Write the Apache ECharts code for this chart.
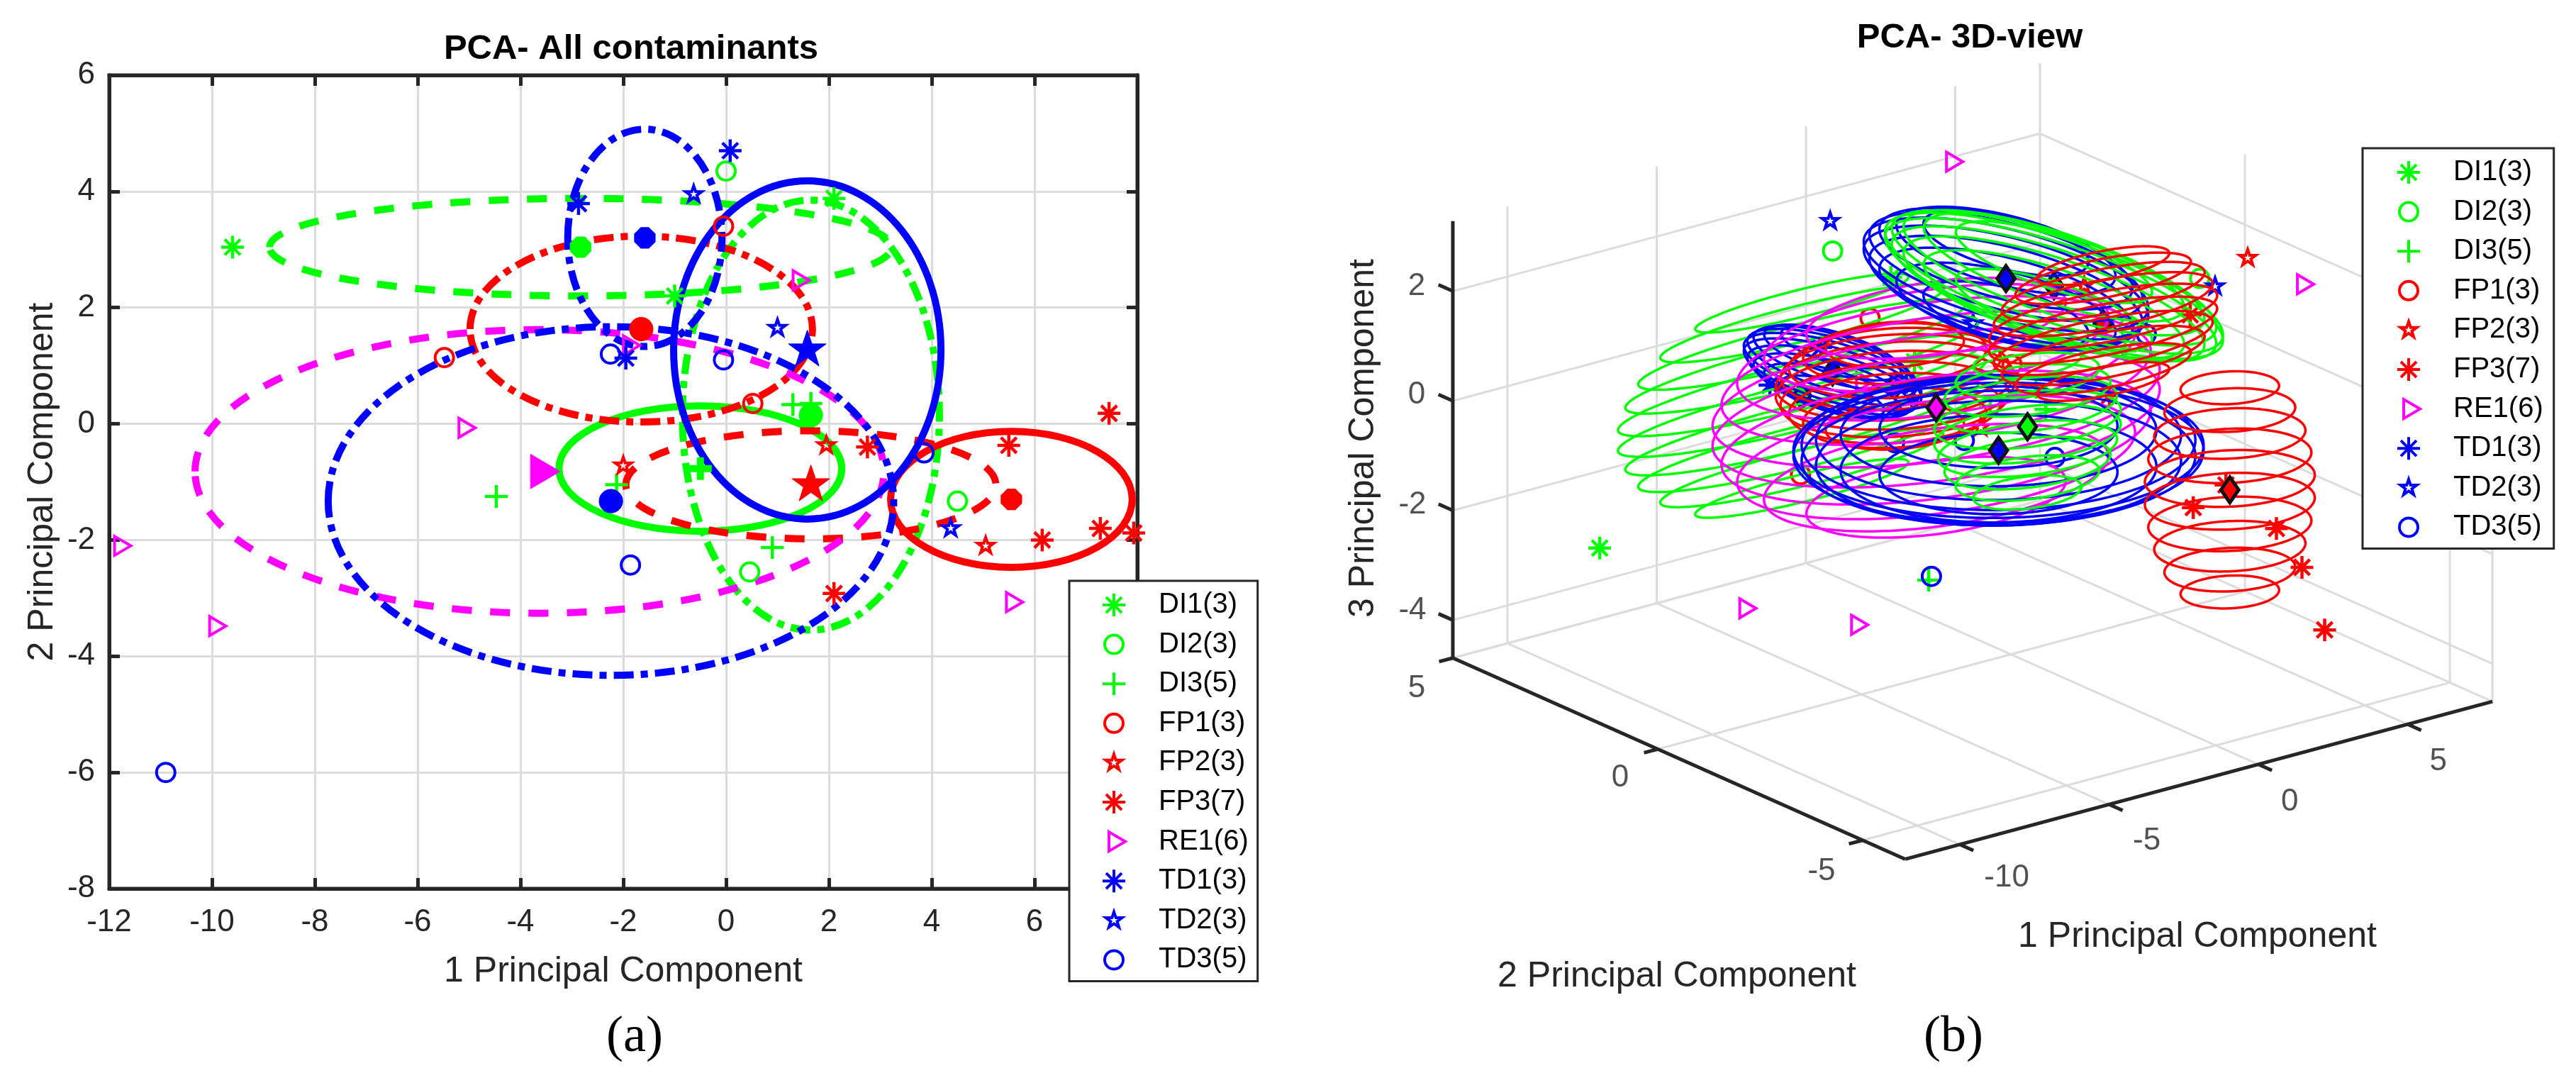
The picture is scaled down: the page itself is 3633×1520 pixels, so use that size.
<!DOCTYPE html>
<html>
<head>
<meta charset="utf-8">
<style>html,body{margin:0;padding:0;background:#fff}#c{width:3633px;height:1520px}</style>
<script src="https://cdn.jsdelivr.net/npm/echarts@6/dist/echarts.min.js"></script>
</head>
<body>
<div id="c"></div>
<script>
// Values: [PC1, PC2, PC3]
const DI1 = [[-9.6,3.04,-2.36],[-1.0,2.2,1.6],[2.1,3.88,-0.95]];
const DI2 = [[0,4.35,1.22],[0.46,-2.55,2.05],[4.5,-1.33,1.95]];
const DI3 = [[-4.47,-1.25,-2.27],[-2.13,-1.05,0.5],[0.9,-2.13,1.42],[1.65,0.35,-0.58],[1.3,0.33,-0.12]];
const FP1 = [[-5.48,1.14,-0.99],[-0.05,3.4,0.32],[0.52,0.35,0.4]];
const FP2 = [[-2.0,-0.72,-0.02],[1.95,-0.37,1.87],[5.05,-2.1,2.5]];
const FP3 = [[2.1,-2.92,-1.35],[2.75,-0.4,-0.24],[5.5,-0.37,0.82],[6.15,-2.0,-2.63],[7.28,-1.8,-3.57],[7.93,-1.88,-4.78],[7.45,0.18,-2.75]];
const RE1 = [[-11.8,-2.1,-1.43],[-9.95,-3.48,-1.54],[-5.1,-0.07,1.05],[1.4,2.47,3.27],[5.55,-3.07,2.27],[-1.9,1.35,0.04]];
const TD1 = [[-2.87,3.79,-0.62],[0.08,4.7,-0.67],[-1.95,1.13,0.18]];
const TD2 = [[-0.63,3.95,1.99],[1.0,1.65,0.65],[4.37,-1.8,1.98]];
const TD3 = [[-10.9,-6.0,0.32],[-2.25,1.2,-0.9],[-0.05,1.1,-1.15],[-1.86,-2.43,-0.02],[3.85,-0.5,0.75]];
const classNames = ['DI1(3)','DI2(3)','DI3(5)','FP1(3)','FP2(3)','FP3(7)','RE1(6)','TD1(3)','TD2(3)','TD3(5)'];
const classPoints = [DI1,DI2,DI3,FP1,FP2,FP3,RE1,TD1,TD2,TD3];
// group centres [PC1, PC2, PC3]
const centres = [[-2.83,3.04,-0.57],[1.65,0.15,1.74],[-0.5,-0.77,-0.21],[-1.65,1.63,-0.09],[1.65,-1.05,1.45],[5.55,-1.3,-2.07],[-3.63,-0.82,0.61],[-1.58,3.2,-0.37],[1.58,1.27,1.51],[-2.24,-1.33,-0.2]];
// group spreads [PC1, PC2, PC3]
const spreads = [[6.05,0.84,1.76],[2.5,3.7,0.45],[2.75,1.08,1.25],[3.33,1.6,0.78],[3.6,0.93,1.1],[2.35,1.17,1.94],[6.7,2.44,1.7],[1.5,1.87,0.47],[2.6,2.91,0.68],[5.5,3.0,0.44]];
const ringHeights = [0.96,0.75,0.53,0.32,0.107,-0.107,-0.32,-0.53,-0.75,-0.96];
const ringScales  = [0.58,0.77,0.89,0.96,1.0,1.0,0.96,0.89,0.77,0.58];
const xTicksA = [-12,8]; const yTicksA = [-8,6];
const pc1Ticks = [-10,-5,0,5]; const pc2Ticks = [-5,0,5]; const pc3Ticks = [-4,-2,0,2];
const pc1Range = [-11.83,7.84]; const pc2Range = [-6.04,5]; const pc3Range = [-4.69,3.28];

// styles
const G='#00ff00',R='#ff0000',M='#ff00ff',B='#0000ff',INK='#262626';
const colors=[G,G,G,R,R,R,M,B,B,B];
const pad='M-18 -18L-18 -18M18 18L18 18';
const aster='M0 -16L0 16M-16 0L16 0M-11 -11L11 11M-11 11L11 -11'+pad;
const circ='M-13 0A13 13 0 1 1 13 0A13 13 0 1 1 -13 0Z'+pad;
const plus='M-16 0L16 0M0 -16L0 16'+pad;
const star='M0 -12L2.8 -3.7L11.4 -3.7L4.5 1.4L7.1 9.7L0 4.6L-7.1 9.7L-4.5 1.4L-11.4 -3.7L-2.8 -3.7Z'+pad;
const tri='M-7 -13.5L16 0L-7 13.5Z'+pad;
const shapes=[aster,circ,plus,circ,star,aster,tri,aster,star,circ].map(s=>'path://'+s);
// mean marker look: [size, stroke]
const meanLook=[[34,12],[46,1],[36,10],[46,1],[84,1],[34,12],[65,1],[34,12],[84,1],[46,1]];
const dashLong=[28,26], dashDot=[28,10,10,10];
const ellipseDash=[dashLong,dashDot,null,dashDot,dashLong,null,dashLong,dashDot,null,dashDot];
const ringOrder=[0,7,3,6,9,2,8,1,5,4];
const centreOnTop=[false,false,true,false,false,true,true,false,true,true];
const FONT='"Liberation Sans",Arial,sans-serif';

// 3D view: the view plane axes of the right panel
function project(p1,p2,p3){return [42.1*p1-57.8*p2, 11.3*p1+25.7*p2+77.3*p3];}

function ellipseItem(color,dash){return function(params,api){
  const c=api.coord([api.value(0),api.value(1)]);
  const s=api.size([api.value(2),api.value(3)]);
  return {type:'ellipse',silent:true,shape:{cx:c[0],cy:c[1],rx:s[0],ry:s[1]},
    style:{fill:'none',stroke:color,lineWidth:10,lineDash:dash||undefined}};
};}
function ringItem(color){return function(params,api){
  const a=api.value(3),b=api.value(4),pts=[];
  for(let i=0;i<120;i++){const t=i/120*2*Math.PI;
    pts.push(api.coord(project(api.value(0)+a*Math.cos(t),api.value(1)+b*Math.sin(t),api.value(2))));}
  return {type:'polygon',silent:true,shape:{points:pts},style:{fill:'none',stroke:color,lineWidth:3.5}};
};}
function segItem(color,w){return function(params,api){
  const p=api.coord(project(api.value(0),api.value(1),api.value(2)));
  const q=api.coord(project(api.value(3),api.value(4),api.value(5)));
  return {type:'line',silent:true,shape:{x1:p[0],y1:p[1],x2:q[0],y2:q[1]},style:{stroke:color,lineWidth:w,fill:'none'}};
};}

const [a1,b1]=pc1Range,[a2,b2]=pc2Range,[a3,b3]=pc3Range;
const boxGrid=[];
pc1Ticks.forEach(t=>{boxGrid.push([t,a2,a3,t,b2,a3]);boxGrid.push([t,b2,a3,t,b2,b3]);});
pc2Ticks.forEach(t=>{boxGrid.push([a1,t,a3,b1,t,a3]);boxGrid.push([b1,t,a3,b1,t,b3]);});
pc3Ticks.forEach(t=>{boxGrid.push([a1,b2,t,b1,b2,t]);boxGrid.push([b1,b2,t,b1,a2,t]);});
boxGrid.push([a1,b2,a3,b1,b2,a3],[b1,b2,a3,b1,a2,a3],[b1,b2,a3,b1,b2,b3],[a1,b2,a3,a1,b2,b3],[b1,a2,a3,b1,a2,b3]);
const boxAxes=[[a1,a2,a3,b1,a2,a3],[a1,a2,a3,a1,b2,a3],[a1,b2,a3,a1,b2,b3]];
pc1Ticks.forEach(t=>boxAxes.push([t,a2,a3,t,a2-0.33,a3]));
pc2Ticks.forEach(t=>boxAxes.push([a1,t,a3,a1-0.46,t,a3]));
pc3Ticks.forEach(t=>boxAxes.push([a1,b2,t,a1,b2+0.35,t]));

const tickLabels=[];
pc1Ticks.forEach((t,i)=>tickLabels.push({name:String(t),value:project(t,a2,a3),label:{offset:[[66,53,44,43][i],[47,52,53,53][i]]}}));
pc2Ticks.forEach((t,i)=>tickLabels.push({name:String(t),value:project(a1,t,a3),label:{offset:[[-58,-53,-51][i],[44,41,43][i]]}}));
pc3Ticks.forEach((t,i)=>tickLabels.push({name:String(t),value:project(a1,b2,t),label:{offset:[[-57,-57,-51,-51][i],[-14,-8,-8,-7][i]]}}));

const series=[];
classNames.forEach((name,i)=>{
  const c=colors[i],sw=(shapes[i].indexOf('M0 -16')>=0||shapes[i].indexOf('M-16 0')>=0)?4.5:4;
  series.push({type:'scatter',name,symbol:shapes[i],symbolKeepAspect:true,symbolSize:36,silent:true,z:2,xAxisIndex:0,yAxisIndex:0,
    itemStyle:{color:'transparent',borderColor:c,borderWidth:sw,borderJoin:'miter',borderMiterLimit:8,opacity:1},
    data:classPoints[i].map(p=>[p[0],p[1]])});
  const ml=meanLook[i];
  series.push({type:'scatter',name:name+' mean',symbol:shapes[i],symbolKeepAspect:true,symbolSize:ml[0],silent:true,z:2,xAxisIndex:0,yAxisIndex:0,
    itemStyle:{color:c,borderColor:c,borderWidth:ml[1],borderJoin:'miter',opacity:1},data:[[centres[i][0],centres[i][1]]]});
  series.push({type:'custom',name:name+' ellipse',xAxisIndex:0,yAxisIndex:0,clip:false,silent:true,z:2,encode:{x:0,y:1},
    renderItem:ellipseItem(c,ellipseDash[i]),data:[[centres[i][0],centres[i][1],spreads[i][0],spreads[i][1]]]});
});
// right panel
series.push({type:'custom',name:'box grid',xAxisIndex:2,yAxisIndex:2,clip:false,silent:true,z:1,renderItem:segItem('#dcdcdc',3),data:boxGrid});
series.push({type:'custom',name:'box axes',xAxisIndex:2,yAxisIndex:2,clip:false,silent:true,z:1,renderItem:segItem(INK,5),data:boxAxes});
series.push({type:'scatter',name:'box labels',xAxisIndex:2,yAxisIndex:2,silent:true,z:3,symbolSize:1,itemStyle:{color:'transparent'},
  label:{show:true,position:'inside',formatter:'{b}',fontFamily:FONT,fontSize:44,color:INK},data:tickLabels});
classNames.forEach((name,i)=>{
  const c=colors[i],sw=(shapes[i].indexOf('M0 -16')>=0||shapes[i].indexOf('M-16 0')>=0)?4.5:4;
  series.push({type:'scatter',name,xAxisIndex:2,yAxisIndex:2,symbol:shapes[i],symbolKeepAspect:true,symbolSize:36,silent:true,z:1.5,
    itemStyle:{color:'transparent',borderColor:c,borderWidth:sw,borderJoin:'miter',borderMiterLimit:8,opacity:1},
    data:classPoints[i].map(p=>project(p[0],p[1],p[2]))});
  series.push({type:'scatter',name:name+' centre',xAxisIndex:2,yAxisIndex:2,symbol:'diamond',symbolKeepAspect:false,symbolSize:[25,36],silent:true,z:centreOnTop[i]?4:1.5,
    itemStyle:{color:c,borderColor:'#111',borderWidth:5,opacity:1},data:[project(centres[i][0],centres[i][1],centres[i][2])]});
});
ringOrder.forEach(i=>{
  const m=centres[i],s=spreads[i];
  series.push({type:'custom',name:classNames[i]+' rings',xAxisIndex:2,yAxisIndex:2,clip:false,silent:true,z:2,renderItem:ringItem(colors[i]),
    data:ringHeights.map((h,k)=>[m[0],m[1],m[2]+s[2]*h,s[0]*ringScales[k],s[1]*ringScales[k]])});
});

const legendData=classNames.map((n,i)=>({name:n,icon:shapes[i],
  itemStyle:{color:'transparent',borderColor:colors[i],borderWidth:4,borderJoin:'miter',borderMiterLimit:8,opacity:1}}));
function legend(left,top,leftPad,rightPad){return {show:true,orient:'vertical',left,top,data:legendData,itemWidth:36,itemHeight:36,itemGap:15.6,
  padding:[14,rightPad,10,leftPad],backgroundColor:'#fff',borderColor:INK,borderWidth:3,borderRadius:0,symbolKeepAspect:true,selectedMode:false,z:20,
  textStyle:{fontFamily:FONT,fontSize:40,lineHeight:40,color:'#000',padding:[0,0,0,40]}};}

const axisLbl={fontFamily:FONT,fontSize:44,color:INK};
const grid2D={show:true,left:154,top:106,width:1450,height:1147,borderColor:INK,borderWidth:5,backgroundColor:'transparent',containLabel:false};
const gridView={left:1800,top:0,width:1833,height:1520,show:false};
const splitA={show:true,lineStyle:{color:'#dcdcdc',width:3}};
const tickA={show:true,inside:true,length:15,lineStyle:{color:INK,width:5}};
const lineA={show:true,lineStyle:{color:INK,width:5},onZero:false};

const option={
  animation:false,backgroundColor:'#fff',
  title:[
    {text:'PCA- All contaminants',left:885,top:40,textAlign:'center',textStyle:{fontFamily:FONT,fontWeight:'bold',fontSize:49,color:'#000'}},
    {text:'PCA- 3D-view',left:2773,top:24,textAlign:'center',textStyle:{fontFamily:FONT,fontWeight:'bold',fontSize:49,color:'#000'}}
  ],
  grid:[grid2D,gridView],
  xAxis:[
    {type:'value',gridIndex:0,min:xTicksA[0],max:xTicksA[1],interval:2,position:'bottom',name:'1 Principal Component',nameLocation:'middle',nameGap:92,
      nameTextStyle:{fontFamily:FONT,fontSize:50,color:INK},axisLabel:Object.assign({margin:26},axisLbl),axisLine:lineA,axisTick:tickA,splitLine:splitA},
    {type:'value',gridIndex:0,min:xTicksA[0],max:xTicksA[1],interval:2,position:'top',axisLabel:{show:false},axisLine:lineA,axisTick:tickA,splitLine:{show:false}},
    {type:'value',gridIndex:1,min:-1036,max:797,show:false}
  ],
  yAxis:[
    {type:'value',gridIndex:0,min:yTicksA[0],max:yTicksA[1],interval:2,position:'left',name:'2 Principal Component',nameLocation:'middle',nameGap:69,
      nameTextStyle:{fontFamily:FONT,fontSize:50,color:INK},axisLabel:Object.assign({margin:20},axisLbl),axisLine:lineA,axisTick:tickA,splitLine:splitA},
    {type:'value',gridIndex:0,min:yTicksA[0],max:yTicksA[1],interval:2,position:'right',axisLabel:{show:false},axisLine:lineA,axisTick:tickA,splitLine:{show:false}},
    {type:'value',gridIndex:1,min:-960,max:560,show:false}
  ],
  legend:[legend(1508,819,43,13),legend(3332,209,45,15)],
  graphic:[
    {type:'text',x:895,y:1463,style:{text:'(a)',font:'72px "Liberation Serif",serif',fill:'#000',textAlign:'center',textVerticalAlign:'middle'}},
    {type:'text',x:2755,y:1463,style:{text:'(b)',font:'72px "Liberation Serif",serif',fill:'#000',textAlign:'center',textVerticalAlign:'middle'}},
    {type:'text',x:3099,y:1321,style:{text:'1 Principal Component',font:'50px "Liberation Sans",Arial',fill:INK,textAlign:'center',textVerticalAlign:'middle'}},
    {type:'text',x:2365,y:1377,style:{text:'2 Principal Component',font:'50px "Liberation Sans",Arial',fill:INK,textAlign:'center',textVerticalAlign:'middle'}},
    {type:'text',x:1923,y:618,rotation:Math.PI/2,style:{text:'3 Principal Component',font:'50px "Liberation Sans",Arial',fill:INK,textAlign:'center',textVerticalAlign:'middle'}}
  ],
  series
};
const chart=echarts.init(document.getElementById('c'),null,{renderer:'canvas',width:3633,height:1520});
chart.setOption(option);
</script>
</body>
</html>
